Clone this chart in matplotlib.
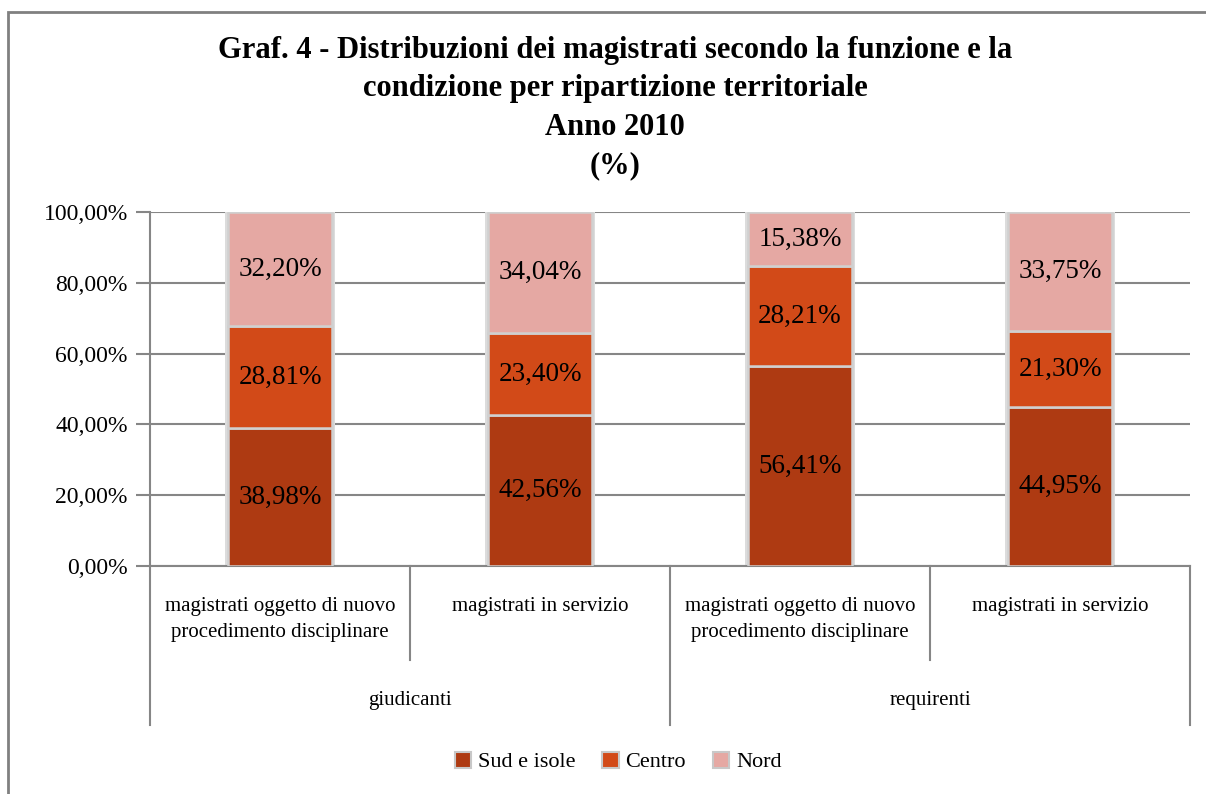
import matplotlib
matplotlib.use("Agg")
import matplotlib.pyplot as plt
from matplotlib.patches import Rectangle, Patch
from matplotlib.lines import Line2D

sub_labels = ["magistrati oggetto di nuovo\nprocedimento disciplinare", "magistrati in servizio",
              "magistrati oggetto di nuovo\nprocedimento disciplinare", "magistrati in servizio"]
group_labels = ["giudicanti", "requirenti"]
series_names = ["Sud e isole", "Centro", "Nord"]
sud = [38.98, 42.56, 56.41, 44.95]
centro = [28.81, 23.40, 28.21, 21.30]
nord = [32.20, 34.04, 15.38, 33.75]
yticks = [0, 20, 40, 60, 80, 100]

colors = ["#AE3A12", "#D24A18", "#E5A8A3"]
FONT = "Liberation Serif"
W, H = 1206, 794

fig = plt.figure(figsize=(W / 100, H / 100), dpi=100)
fig.patch.set_facecolor("white")

# outer frame
fig.add_artist(Rectangle((8 / W, -0.1), 1.2, 1 - 12 / H + 0.1, transform=fig.transFigure,
                         fill=False, edgecolor="#808080", linewidth=2))

L, R, T, B = 150, 1190, 212, 566
ax = fig.add_axes([L / W, 1 - B / H, (R - L) / W, (B - T) / H])
x = list(range(len(sud)))
series = [sud, centro, nord]
totals = [a + b + c for a, b, c in zip(sud, centro, nord)]
# soft shadow behind the bars
ax.bar(x, totals, width=0.425, color="#dcdcdc", linewidth=0, zorder=2)
bottoms = [0] * len(x)
for vals, col in zip(series, colors):
    ax.bar(x, vals, width=0.4, bottom=bottoms, color=col, edgecolor="#d0d0d0",
           linewidth=1.8, zorder=3)
    for xi, v, b in zip(x, vals, bottoms):
        ax.text(xi, b + v / 2, f"{v:.2f}%".replace(".", ","), ha="center", va="center",
                fontsize=19.5, family=FONT, color="black", zorder=4)
    bottoms = [b + v for b, v in zip(bottoms, vals)]

ax.set_xlim(-0.5, 3.5)
ax.set_ylim(0, 100)
ax.set_yticks(yticks)
ax.set_yticklabels([f"{v:.2f}%".replace(".", ",") for v in yticks], family=FONT, fontsize=17)
ax.tick_params(axis="y", length=10, width=1.5, color="#868686", pad=6)
ax.set_xticks([])
ax.grid(axis="y", color="#868686", linewidth=1.5, zorder=0)
for s in ["top", "right"]:
    ax.spines[s].set_visible(False)
ax.spines["left"].set_color("#868686")
ax.spines["left"].set_linewidth(1.5)
ax.spines["bottom"].set_color("#868686")
ax.spines["bottom"].set_linewidth(1.5)

span = B - T
def fr(ypix):
    return (B - ypix) / span

tr = ax.get_xaxis_transform()
for xs, yend in [(-0.5, 725), (0.5, 660), (1.5, 725), (2.5, 660), (3.5, 725)]:
    ax.add_line(Line2D([xs, xs], [0, fr(yend)], transform=tr, color="#868686",
                       linewidth=1.5, clip_on=False))

for xi, lab in zip(x, sub_labels):
    ax.text(xi, fr(597), lab, transform=tr, ha="center", va="top", fontsize=15,
            family=FONT, linespacing=1.5)
for gi, lab in enumerate(group_labels):
    ax.text(gi * 2 + 0.5, fr(700), lab, transform=tr, ha="center", va="center",
            fontsize=15, family=FONT)

fig.text(0.51, 1 - 108 / H,
         "Graf. 4 - Distribuzioni dei magistrati secondo la funzione e la\n"
         "condizione per ripartizione territoriale\nAnno 2010\n(%)",
         ha="center", va="center", fontsize=22, fontweight="bold", family=FONT,
         linespacing=1.42)

handles = [Patch(facecolor=c, edgecolor="#c8c8c8", linewidth=1.5) for c in colors]
fig.legend(handles, series_names, loc="center", bbox_to_anchor=(618 / W, 1 - 762 / H),
           ncol=3, frameon=False, prop={"family": FONT, "size": 16},
           handlelength=0.75, handleheight=0.75, handletextpad=0.3, columnspacing=1.2)

fig.savefig("out.png", dpi=100, facecolor="white")
